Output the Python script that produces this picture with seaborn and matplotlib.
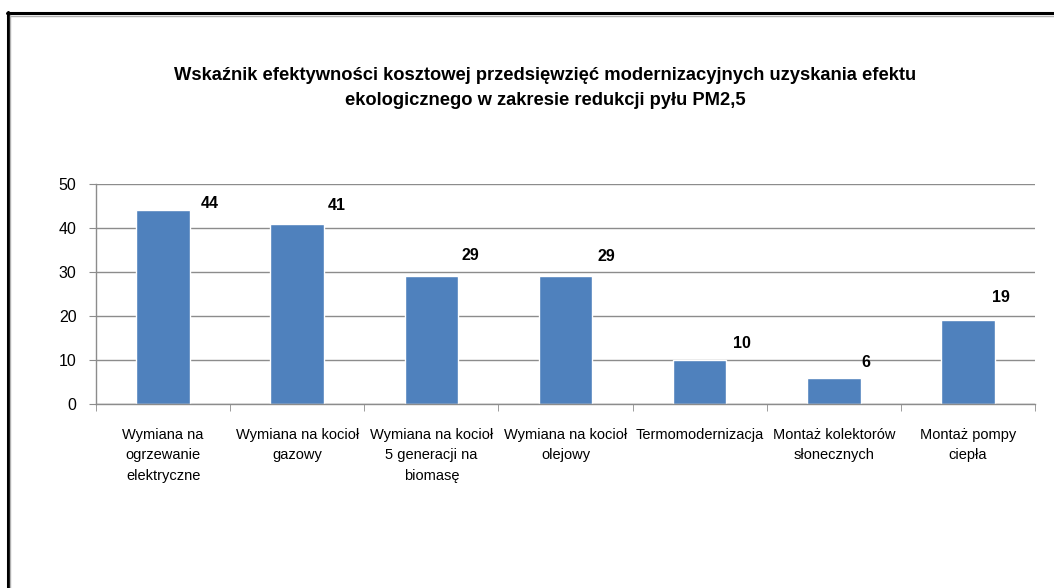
import matplotlib
matplotlib.use("Agg")
import matplotlib.pyplot as plt
import seaborn as sns
import numpy as np
import pandas as pd
from matplotlib.lines import Line2D


categories = [
    "Wymiana na\nogrzewanie\nelektryczne",
    "Wymiana na kocioł\ngazowy",
    "Wymiana na kocioł\n5 generacji na\nbiomasę",
    "Wymiana na kocioł\nolejowy",
    "Termomodernizacja",
    "Montaż kolektorów\nsłonecznych",
    "Montaż pompy\nciepła",
]
values = [44, 41, 29, 29, 10, 6, 19]
yticks = [0, 10, 20, 30, 40, 50]

title = ("Wskaźnik efektywności kosztowej przedsięwzięć modernizacyjnych uzyskania efektu\n"
         "ekologicznego w zakresie redukcji pyłu PM2,5")

# label offsets from bar top centre, in pixels
label_dx = [47, 40, 39, 41, 42, 32, 33]
label_dy = [7, 18, 21, 20, 17, 15, 23]

sns.set_style("white")
fonts = ["Liberation Sans", "DejaVu Sans"]
plt.rcParams["font.family"] = fonts
plt.rcParams["text.color"] = "black"

df = pd.DataFrame({"cat": categories, "val": values})

fig = plt.figure(figsize=(10.54, 5.88), dpi=100)
ax = fig.add_axes([96 / 1054, 1 - 404 / 588, (1035 - 96) / 1054, 220 / 588])

sns.barplot(
    data=df,
    x="cat",
    y="val",
    color="#4F81BD",
    width=0.4,
    saturation=1,
    ax=ax
)

ax.set_xlim(-0.5, len(categories) - 0.5)
ax.set_ylim(0, 50)
ax.set_yticks(yticks)
ax.yaxis.grid(True, color="#8C8C8C", linewidth=1)
ax.set_axisbelow(True)

ax.set_xlabel("")
ax.set_ylabel("")

for s in ["top", "right"]:
    ax.spines[s].set_visible(False)
for s in ["left", "bottom"]:
    ax.spines[s].set_color("#8C8C8C")
    ax.spines[s].set_linewidth(1)

ax.set_xticks(np.arange(len(categories)))
ax.set_xticklabels(categories, fontsize=10.5, linespacing=1.6,
                   color="black")
ax.set_xticks(np.arange(-0.5, len(categories)), minor=True)
ax.tick_params(axis="x", which="major", length=0, pad=17)
ax.tick_params(axis="x", which="minor", length=5, color="#8C8C8C",
               direction="out", bottom=True)
ax.tick_params(axis="y", length=5, color="#8C8C8C", direction="out",
               left=True, labelsize=11.5, pad=9, labelcolor="black")

for i, v in enumerate(values):
    ax.annotate(
        str(v),
        xy=(i, v),
        xytext=(label_dx[i], label_dy[i]),
        textcoords="offset pixels",
        ha="center",
        va="center",
        fontsize=11.5,
        fontweight="bold",
        color="black"
    )

fig.text(0.517, 1 - 88 / 588, title, ha="center", va="center",
         fontsize=13.2, fontweight="bold", linespacing=1.55, color="black")

# frame (top and left edges only, picture is cropped on the other sides)
fig.add_artist(Line2D([7 / 1054, 1], [1 - 13 / 588, 1 - 13 / 588],
                      transform=fig.transFigure, color="black", linewidth=2.2))
fig.add_artist(Line2D([7 / 1054, 1], [1 - 15.5 / 588, 1 - 15.5 / 588],
                      transform=fig.transFigure, color="#B0B0B0", linewidth=1))
fig.add_artist(Line2D([7.5 / 1054, 7.5 / 1054], [0, 1 - 12 / 588],
                      transform=fig.transFigure, color="black", linewidth=2.2))
fig.add_artist(Line2D([10 / 1054, 10 / 1054], [0, 1 - 15 / 588],
                      transform=fig.transFigure, color="#B0B0B0", linewidth=1))

fig.savefig("out.png", dpi=100)
plt.close()
